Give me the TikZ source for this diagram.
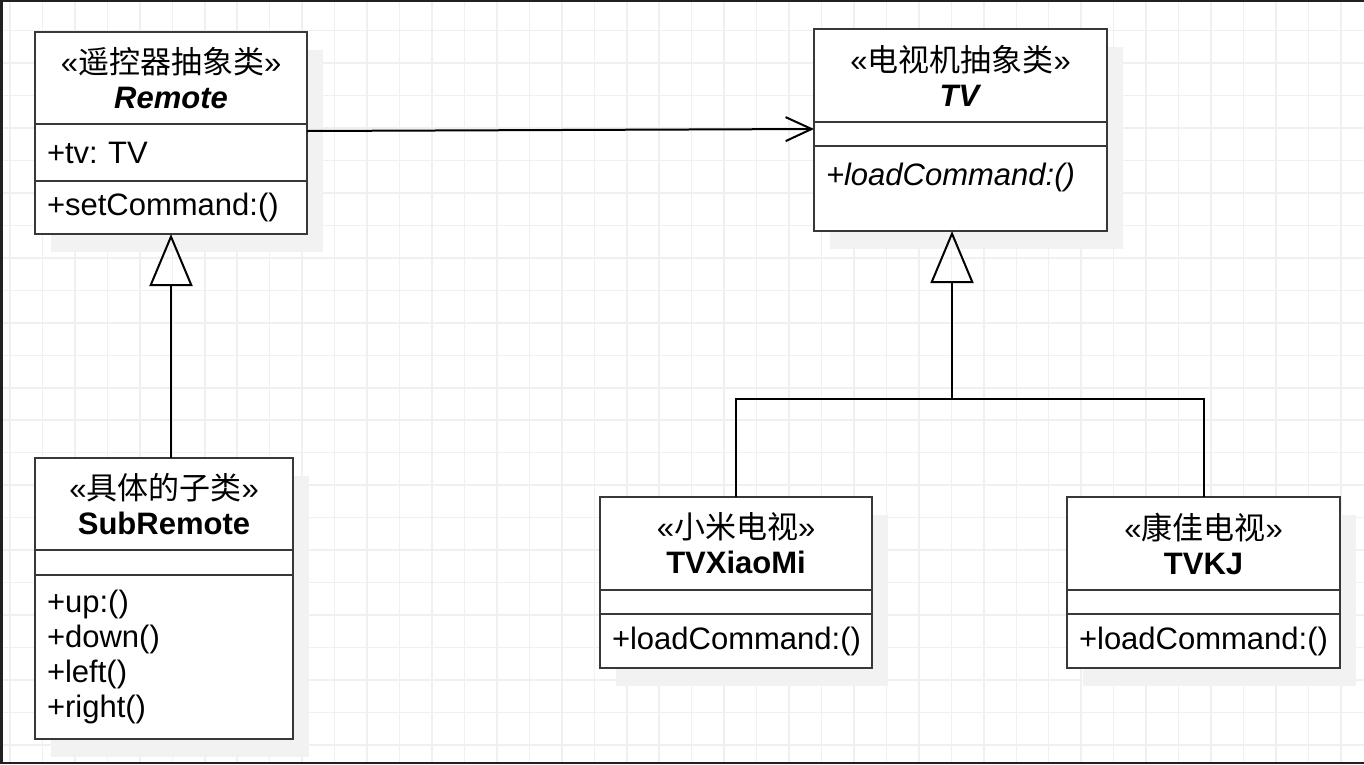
\documentclass[tikz,border=0pt]{standalone}
\usepackage{fontspec}
\setmainfont{Liberation Sans}
\newfontfamily\cjk{Noto Sans CJK SC}
\usepackage{tikz}
\usetikzlibrary{positioning}
\usetikzlibrary{arrows.meta}
\usetikzlibrary{shadows}
\frenchspacing

\begin{document}
\begin{tikzpicture}[x=1pt, y=-1pt, font=\fontsize{31}{35}\selectfont,
    gridline/.style={black!6, line width=1.5pt},
    part/.style={draw=black!78, line width=2.5pt, fill=white, inner xsep=12pt, inner ysep=0pt, outer sep=0pt, text width=#1, copy shadow={shadow xshift=16pt, shadow yshift=-18pt, draw=none, fill=black!5}},
    head/.style={part=#1, align=center},
    slot/.style={part=#1, align=left},
    assoc/.style={line width=2pt, -{Straight Barb[length=26pt, width=24pt]}},
    inherit/.style={line width=2pt, -{Triangle[open, length=52pt, width=43pt]}}]

    \useasboundingbox (0,0) rectangle (1364,764);

    \foreach \gx in {0,...,41} {
        \draw[gridline] (\gx*32.46+10, 0) -- ++(0,764);
    }
    \foreach \gy in {0,...,23} {
        \draw[gridline] (0, \gy*32.46-1.76) -- ++(1364,0);
    }

    \node [head=248pt, minimum height=92pt, anchor=north west] (rhdr) at (35,32) {«{\cjk 遥控器抽象类}»\\\textbf{\textit{Remote}}};
    \node [slot=248pt, minimum height=57pt, below=0pt of rhdr] (rattr) {+tv: TV};
    \node [slot=248pt, minimum height=53pt, below=0pt of rattr] (rops) {+setCommand:()};

    \node [head=269pt, minimum height=93pt, anchor=north west] (tvhdr) at (814,29) {«{\cjk 电视机抽象类}»\\\textbf{\textit{TV}}};
    \node [slot=269pt, minimum height=24pt, below=0pt of tvhdr] (tvattr) {};
    \node [slot=269pt, text height=39pt, text depth=46pt, below=0pt of tvattr] (tvops) {\textit{+loadCommand:()}};

    \node [head=234pt, minimum height=92pt, anchor=north west] (shdr) at (35,458) {«{\cjk 具体的子类}»\\\textbf{SubRemote}};
    \node [slot=234pt, minimum height=25pt, below=0pt of shdr] (sattr) {};
    \node [slot=234pt, minimum height=164pt, below=0pt of sattr] (sops) {+up:()\\+down()\\+left()\\+right()};

    \node [head=248pt, minimum height=93pt, anchor=north west] (xmhdr) at (600,497) {«{\cjk 小米电视}»\\\textbf{TVXiaoMi}};
    \node [slot=248pt, minimum height=24pt, below=0pt of xmhdr] (xmattr) {};
    \node [slot=248pt, minimum height=54pt, below=0pt of xmattr] (xmops) {+loadCommand:()};

    \node [head=249pt, minimum height=93pt, anchor=north west] (kjhdr) at (1067,497) {«{\cjk 康佳电视}»\\\textbf{TVKJ}};
    \node [slot=249pt, minimum height=24pt, below=0pt of kjhdr] (kjattr) {};
    \node [slot=249pt, minimum height=54pt, below=0pt of kjattr] (kjops) {+loadCommand:()};

    \coordinate (tvjoint) at (952,399);

    \draw[assoc] ([yshift=-7pt]rhdr.south east) -- ([yshift=-7pt]tvhdr.south west);
    \draw[inherit] (shdr.north -| rops.south) -- (rops.south);
    \draw[inherit] (tvjoint) -- (tvjoint |- tvops.south);
    \draw[line width=2pt] (xmhdr.north) |- (tvjoint) -| (kjhdr.north);

    \fill[black!87] (0,0) rectangle (3,764);
    \fill[black!87] (0,0) rectangle (1364,1.5);
    \fill[black!87] (0,762) rectangle (1364,764);

\end{tikzpicture}
\end{document}
